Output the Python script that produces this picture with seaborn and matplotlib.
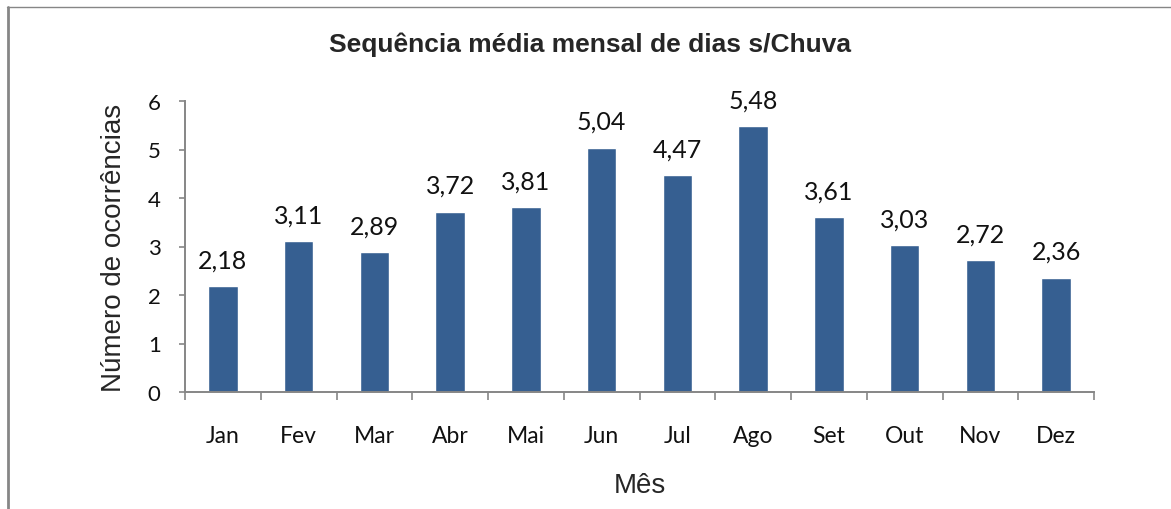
import matplotlib
matplotlib.use("Agg")
import matplotlib.pyplot as plt
from matplotlib.lines import Line2D
from matplotlib.ticker import FixedLocator
import seaborn as sns
import pandas as pd

# Monthly mean length of dry-day sequences
meses = ["Jan", "Fev", "Mar", "Abr", "Mai", "Jun", "Jul", "Ago", "Set", "Out", "Nov", "Dez"]
valores = [2.18, 3.11, 2.89, 3.72, 3.81, 5.04, 4.47, 5.48, 3.61, 3.03, 2.72, 2.36]
y_ticks = [0, 1, 2, 3, 4, 5, 6]

titulo = "Sequência média mensal de dias s/Chuva"
rotulo_x = "Mês"
rotulo_y = "Número de ocorrências"

sns.set_style("white")
plt.rcParams["font.family"] = ["Lato", "DejaVu Sans"]

df = pd.DataFrame({"mes": meses, "valor": valores})

W, H, DPI = 1171, 510, 100
fig = plt.figure(figsize=(W / DPI, H / DPI), dpi=DPI)
ax = fig.add_axes([185 / W, 1 - 393 / H, (1094 - 185) / W, (393 - 102) / H])

cor_barra = "#365F91"
cor_eixo = "#868686"

sns.barplot(data=df, x="mes", y="valor", color=cor_barra, width=0.39,
            saturation=1, ax=ax, order=meses)

ax.set_xlim(-0.5, len(meses) - 0.5)
ax.set_ylim(0, 6)
ax.set_yticks(y_ticks)
ax.set_yticklabels([str(t) for t in y_ticks])

for s in ["top", "right"]:
    ax.spines[s].set_visible(False)
for s in ["left", "bottom"]:
    ax.spines[s].set_color(cor_eixo)
    ax.spines[s].set_linewidth(1.4)

# y ticks point outward; x ticks sit on category boundaries
ax.tick_params(axis="y", which="major", direction="out", length=4.5, width=1.2,
               color=cor_eixo, left=True, pad=13, labelsize=16, labelcolor="#111111")
ax.tick_params(axis="x", which="major", length=0, pad=23.5, labelsize=16.5, labelcolor="#111111")
ax.xaxis.set_minor_locator(FixedLocator([i - 0.5 for i in range(len(meses) + 1)]))
ax.tick_params(axis="x", which="minor", direction="out", length=6, width=1.2,
               color=cor_eixo, bottom=True)

# value labels above bars
for i, v in enumerate(valores):
    ax.annotate(f"{v:.2f}".replace(".", ","), xy=(i, v), xytext=(0, 13.5),
                textcoords="offset points", ha="center", va="baseline",
                fontsize=18, color="#111111")

ax.set_xlabel(rotulo_x, fontsize=20, family=["Liberation Sans", "DejaVu Sans"], va="center")
ax.xaxis.set_label_coords(0.5, -(486 - 393) / 291)
ax.set_ylabel(rotulo_y, fontsize=20, family=["Liberation Sans", "DejaVu Sans"], va="center")
ax.yaxis.set_label_coords(-(185 - 114) / 909, 0.5)

fig.text(590 / W, 1 - 45 / H, titulo, ha="center", va="center", fontsize=19,
         fontweight="bold", family=["Liberation Sans", "DejaVu Sans"])

# chart frame (left and top edges)
fig.add_artist(Line2D([7.5 / W, 7.5 / W], [0, 1 - 8 / H], color=cor_eixo, lw=2,
                      transform=fig.transFigure))
fig.add_artist(Line2D([6.5 / W, 1], [1 - 8 / H, 1 - 8 / H], color=cor_eixo, lw=1,
                      transform=fig.transFigure))

fig.savefig("out.png", dpi=DPI)
